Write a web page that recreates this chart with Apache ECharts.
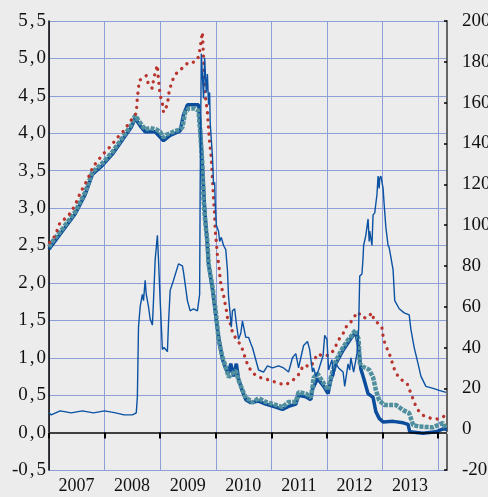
<!DOCTYPE html>
<html>
<head>
<meta charset="utf-8">
<title>chart</title>
<script src="https://cdn.jsdelivr.net/npm/echarts@6/dist/echarts.min.js"></script>
<style>
	html, body { margin: 0; padding: 0; background: #ececec; }
	#lineChart1 { width: 488px; height: 497px; }
</style>
</head>
<body>
<div id="lineChart1"></div>
<script>
//	年份标签
var yearLabels = ["2007", "2008", "2009", "2010", "2011", "2012", "2013"];

//	深蓝粗线 (左轴)
var darkThick = [[2007.00,2.45],[2007.25,2.70],[2007.47,2.92],[2007.65,3.18],[2007.78,3.45],[2007.96,3.57],[2008.14,3.72],[2008.32,3.91],[2008.48,4.08],[2008.55,4.20],[2008.64,4.10],[2008.73,4.02],[2008.91,4.02],[2009.06,3.90],[2009.18,3.97],[2009.36,4.03],[2009.42,4.25],[2009.49,4.38],[2009.69,4.38],[2009.72,4.10],[2009.76,3.55],[2009.80,3.00],[2009.83,2.70],[2009.87,2.25],[2009.94,1.92],[2009.99,1.62],[2010.03,1.38],[2010.07,1.20],[2010.12,0.98],[2010.18,0.85],[2010.23,0.80],[2010.27,0.92],[2010.32,0.75],[2010.37,0.92],[2010.41,0.72],[2010.48,0.55],[2010.54,0.44],[2010.63,0.40],[2010.77,0.42],[2010.90,0.38],[2011.08,0.34],[2011.20,0.31],[2011.31,0.35],[2011.44,0.38],[2011.49,0.50],[2011.62,0.48],[2011.71,0.44],[2011.74,0.58],[2011.83,0.72],[2011.94,0.62],[2012.02,0.52],[2012.07,0.70],[2012.16,0.92],[2012.29,1.10],[2012.38,1.20],[2012.47,1.30],[2012.52,1.33],[2012.57,1.15],[2012.61,0.85],[2012.66,0.73],[2012.74,0.52],[2012.83,0.47],[2012.88,0.28],[2012.94,0.19],[2013.01,0.14],[2013.19,0.15],[2013.37,0.13],[2013.46,0.11],[2013.49,0.01],[2013.73,-0.01],[2013.96,0.01],[2014.09,0.05],[2014.16,0.04]];

//	青色粗线 (左轴)
var tealLine = [[2007.00,2.48],[2007.05,2.54],[2007.25,2.73],[2007.47,2.95],[2007.65,3.21],[2007.78,3.48],[2007.96,3.60],[2008.14,3.75],[2008.32,3.94],[2008.48,4.11],[2008.55,4.24],[2008.64,4.14],[2008.73,4.05],[2008.82,4.07],[2008.93,4.05],[2009.00,4.02],[2009.06,3.94],[2009.11,3.98],[2009.18,4.00],[2009.27,4.03],[2009.36,4.05],[2009.40,4.08],[2009.45,4.28],[2009.51,4.33],[2009.62,4.33],[2009.69,4.30],[2009.72,4.02],[2009.76,3.58],[2009.78,3.13],[2009.81,2.81],[2009.85,2.55],[2009.87,2.26],[2009.94,1.95],[2009.99,1.68],[2010.03,1.41],[2010.05,1.24],[2010.12,1.01],[2010.18,0.88],[2010.23,0.74],[2010.36,0.83],[2010.41,0.70],[2010.48,0.57],[2010.54,0.46],[2010.63,0.43],[2010.66,0.40],[2010.77,0.46],[2010.90,0.41],[2011.08,0.37],[2011.20,0.34],[2011.31,0.41],[2011.44,0.41],[2011.49,0.54],[2011.62,0.52],[2011.71,0.47],[2011.74,0.60],[2011.76,0.73],[2011.83,0.79],[2011.94,0.66],[2012.02,0.57],[2012.07,0.74],[2012.16,0.96],[2012.29,1.14],[2012.38,1.24],[2012.43,1.28],[2012.47,1.33],[2012.52,1.37],[2012.57,1.24],[2012.59,0.93],[2012.65,0.88],[2012.76,0.84],[2012.83,0.74],[2012.88,0.57],[2012.94,0.43],[2013.03,0.37],[2013.24,0.37],[2013.37,0.30],[2013.48,0.26],[2013.55,0.10],[2013.66,0.08],[2013.91,0.07],[2014.09,0.13],[2014.13,0.06]];

//	红色点线 (左轴)
var redDots = [[2007.01,2.54],[2007.11,2.63],[2007.20,2.81],[2007.31,2.87],[2007.38,2.93],[2007.47,3.04],[2007.56,3.20],[2007.69,3.38],[2007.74,3.46],[2007.79,3.55],[2007.96,3.71],[2008.10,3.82],[2008.24,3.95],[2008.34,4.03],[2008.50,4.20],[2008.57,4.27],[2008.59,4.48],[2008.61,4.60],[2008.62,4.70],[2008.70,4.75],[2008.75,4.77],[2008.79,4.65],[2008.86,4.60],[2008.88,4.71],[2008.91,4.81],[2008.95,4.91],[2008.97,4.71],[2009.00,4.51],[2009.04,4.40],[2009.06,4.28],[2009.13,4.38],[2009.16,4.55],[2009.20,4.66],[2009.24,4.74],[2009.31,4.82],[2009.40,4.87],[2009.51,4.95],[2009.62,4.95],[2009.69,5.02],[2009.72,5.14],[2009.74,5.25],[2009.76,5.35],[2009.81,4.51],[2009.85,4.28],[2009.87,4.07],[2009.89,3.88],[2009.92,3.67],[2009.94,3.40],[2009.96,3.13],[2009.98,2.91],[2009.99,2.71],[2010.01,2.55],[2010.03,2.37],[2010.05,2.26],[2010.07,2.15],[2010.08,2.04],[2010.10,1.95],[2010.14,1.84],[2010.16,1.75],[2010.19,1.64],[2010.21,1.54],[2010.27,1.44],[2010.30,1.34],[2010.36,1.26],[2010.45,1.17],[2010.50,1.07],[2010.54,0.97],[2010.59,0.88],[2010.66,0.80],[2010.75,0.75],[2010.86,0.72],[2010.99,0.70],[2011.11,0.66],[2011.26,0.64],[2011.37,0.69],[2011.47,0.75],[2011.58,0.90],[2011.71,0.88],[2011.83,1.05],[2011.94,1.02],[2012.05,1.04],[2012.11,1.09],[2012.16,1.16],[2012.21,1.24],[2012.29,1.32],[2012.34,1.41],[2012.41,1.45],[2012.47,1.53],[2012.56,1.61],[2012.63,1.54],[2012.72,1.53],[2012.81,1.60],[2012.85,1.50],[2012.92,1.46],[2012.99,1.40],[2013.01,1.29],[2013.04,1.20],[2013.10,1.09],[2013.15,1.00],[2013.19,0.89],[2013.24,0.80],[2013.31,0.72],[2013.44,0.66],[2013.48,0.58],[2013.53,0.49],[2013.57,0.40],[2013.64,0.30],[2013.73,0.23],[2013.87,0.19],[2014.00,0.18],[2014.09,0.21],[2014.13,0.23]];

//	蓝色细线 (右轴)
var spreadLine = [[2007.00,8],[2007.04,7],[2007.20,9],[2007.40,8],[2007.60,9],[2007.80,8],[2008.00,9],[2008.20,8],[2008.35,7],[2008.50,7],[2008.57,8],[2008.59,16],[2008.61,50],[2008.64,60],[2008.68,66],[2008.70,63],[2008.73,73],[2008.75,66],[2008.79,60],[2008.82,54],[2008.86,51],[2008.88,63],[2008.91,83],[2008.93,89],[2008.95,95],[2008.97,83],[2009.00,63],[2009.04,39],[2009.07,40],[2009.13,38],[2009.15,52],[2009.18,68],[2009.24,73],[2009.33,81],[2009.40,80],[2009.42,77],[2009.49,63],[2009.54,58],[2009.60,59],[2009.67,58],[2009.71,66],[2009.72,120],[2009.74,184],[2009.78,162],[2009.80,182],[2009.83,165],[2009.85,174],[2009.87,159],[2009.89,165],[2009.90,150],[2009.94,134],[2009.96,120],[2009.98,121],[2009.99,111],[2010.01,100],[2010.05,97],[2010.07,92],[2010.10,94],[2010.14,90],[2010.18,88],[2010.21,78],[2010.23,65],[2010.28,50],[2010.30,58],[2010.34,59],[2010.37,52],[2010.41,44],[2010.45,47],[2010.48,53],[2010.54,45],[2010.59,45],[2010.63,42],[2010.66,40],[2010.72,34],[2010.77,29],[2010.86,28],[2010.93,31],[2011.02,30],[2011.13,31],[2011.22,30],[2011.31,28],[2011.38,35],[2011.44,37],[2011.49,30],[2011.53,35],[2011.58,41],[2011.65,43],[2011.69,39],[2011.74,28],[2011.76,30],[2011.80,26],[2011.85,29],[2011.93,36],[2011.96,46],[2012.00,44],[2012.03,29],[2012.09,34],[2012.12,26],[2012.16,32],[2012.21,30],[2012.29,28],[2012.32,21],[2012.38,32],[2012.41,29],[2012.43,35],[2012.48,28],[2012.54,37],[2012.57,49],[2012.59,75],[2012.63,76],[2012.65,84],[2012.66,90],[2012.70,95],[2012.74,103],[2012.76,92],[2012.77,97],[2012.81,90],[2012.83,105],[2012.86,106],[2012.90,115],[2012.92,124],[2012.94,118],[2012.95,123],[2012.97,124],[2013.01,118],[2013.03,110],[2013.06,99],[2013.10,90],[2013.12,89],[2013.19,78],[2013.22,63],[2013.30,59],[2013.39,57],[2013.48,56],[2013.51,49],[2013.57,40],[2013.64,32],[2013.69,26],[2013.78,21],[2013.91,20],[2014.02,19],[2014.14,18]];

var serifFont = "'Liberation Serif', 'Times New Roman', serif";
var gridBlue = "#8e9fd8";

var lineChart = echarts.init(document.getElementById('lineChart1'));

var chartOption = {
	backgroundColor: '#ececec',
	animation: false,
	grid: {
		left: 49,
		right: 41,
		top: 21,
		bottom: 27,
		outerBoundsMode: 'none', // 右轴标签允许超出画布
		show: true,
		backgroundColor: '#ececec',
		borderWidth: 0
	},
	xAxis: {
		type: 'value',
		min: 2007,
		max: 2014.16,
		interval: 1,
		axisLine: { lineStyle: { color: '#fff', width: 2 } },
		axisTick: { show: true, length: 6, lineStyle: { color: '#000', width: 2 } },
		splitLine: { show: true, lineStyle: { color: gridBlue, width: 1 } },
		axisLabel: {
			showMaxLabel: false,
			margin: 7,
			formatter: function(v) {
				var i = Math.round(v) - 2007;
				if(i < 0 || i >= yearLabels.length) {
					return '';
				}
				return '{y|' + yearLabels[i] + '}';
			},
			rich: {
				y: { fontFamily: serifFont, fontSize: 18, color: '#111', padding: [0, 0, 0, 55] }
			}
		}
	},
	yAxis: [{
		type: 'value',
		min: -0.5,
		max: 5.5,
		interval: 0.5,
		position: 'left',
		axisLine: { show: true, lineStyle: { color: '#000', width: 1.5 } },
		axisTick: { show: false },
		splitLine: { show: true, lineStyle: { color: gridBlue, width: 1 } },
		axisLabel: {
			margin: 3,
			formatter: function(v) {
				var parts = v.toFixed(1).split('.');
				return '{n|' + parts[0] + '}{c|,}{n|' + parts[1] + '}';
			},
			rich: {
				n: { fontFamily: serifFont, fontSize: 19, color: '#111' },
				c: { fontFamily: serifFont, fontSize: 19, color: '#111', padding: [0, 2, 0, 2] }
			}
		}
	}, {
		type: 'value',
		min: -20,
		max: 200,
		interval: 20,
		position: 'right',
		axisLine: { show: true, lineStyle: { color: '#666', width: 2 } },
		axisTick: { show: true, inside: true, length: 3, lineStyle: { color: '#000', width: 1.5 } },
		splitLine: { show: false },
		axisLabel: {
			margin: 15,
			fontFamily: serifFont,
			fontSize: 19,
			color: '#111'
		}
	}],
	series: [{
		name: 'dark',
		type: 'line',
		yAxisIndex: 0,
		data: darkThick,
		showSymbol: false,
		lineStyle: { color: '#0b4c9c', width: 3.5 },
		markLine: {
			silent: true,
			symbol: ['none', 'none'],
			label: { show: false },
			lineStyle: { color: '#000', width: 1.5, type: 'solid' },
			data: [{ yAxis: 0 }]
		},
		z: 2
	}, {
		name: 'teal',
		type: 'line',
		yAxisIndex: 0,
		data: tealLine,
		showSymbol: false,
		lineStyle: { color: '#4f8f9e', width: 4.5, type: [4, 1.2] },
		z: 3
	}, {
		name: 'red',
		type: 'line',
		yAxisIndex: 0,
		data: redDots,
		showSymbol: false,
		lineStyle: { color: '#b8352f', width: 3.3, type: [0.1, 7], cap: 'round' },
		z: 4
	}, {
		name: 'spread',
		type: 'line',
		yAxisIndex: 1,
		data: spreadLine,
		showSymbol: false,
		lineStyle: { color: '#0b52a3', width: 1.4 },
		z: 5
	}]
};

lineChart.setOption(chartOption);
</script>
</body>
</html>
